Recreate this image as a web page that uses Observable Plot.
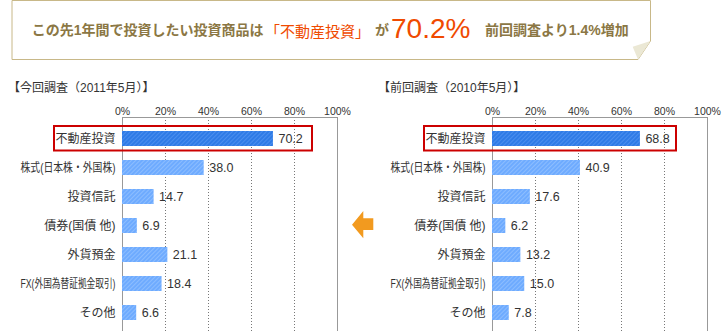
<!DOCTYPE html>
<html><head><meta charset="utf-8">
<script src="https://cdn.jsdelivr.net/npm/d3@7"></script>
<script src="https://cdn.jsdelivr.net/npm/@observablehq/plot@0.6"></script>
<style>
body{margin:0;background:#fff;}
#root{position:relative;width:724px;height:332px;overflow:hidden;font-family:"Liberation Sans","Noto Sans CJK JP",sans-serif;}
.abs{position:absolute;white-space:nowrap;}
</style></head><body>
<div id="root">
<svg class="abs" style="left:0;top:0" width="724" height="332">
  <defs>
    <pattern id="stripeDark" width="3" height="3" patternUnits="userSpaceOnUse" patternTransform="rotate(45)">
      <rect width="3" height="3" fill="#2f7be6"/><rect width="1" height="3" fill="#4a8eef"/>
    </pattern>
    <pattern id="stripeLight" width="3" height="3" patternUnits="userSpaceOnUse" patternTransform="rotate(45)">
      <rect width="3" height="3" fill="#6eabff"/><rect width="1" height="3" fill="#8cbdff"/>
    </pattern>
  </defs>
  <path d="M12,0.5H650.5V41L638,59.5H12Z" fill="#fff" stroke="#c8b888" stroke-width="1"/>
  <path d="M632.7,46.7L650.5,41L638,59.5Z" fill="#ebe8d5"/>
  <polygon points="352,224.7 363.3,211 363.3,218.3 373.3,218.3 373.3,230 363.3,230 363.3,238.3" fill="#f29a1f"/>
</svg>
</div>
<script>
// ---- data ----
const categories = ["不動産投資","株式(日本株・外国株)","投資信託","債券(国債 他)","外貨預金","FX(外国為替証拠金取引)","その他"];
const values2011 = [70.2, 38.0, 14.7, 6.9, 21.1, 18.4, 6.6];
const values2010 = [68.8, 40.9, 17.6, 6.2, 13.2, 15.0, 7.8];
const xTicks = [0, 20, 40, 60, 80, 100];
const gridTicks = [20, 40, 60, 80];
const panelTitles = ["【今回調査（2011年5月）】", "【前回調査（2010年5月）】"];
const highlight = "不動産投資";
const headline = ["この先1年間で投資したい投資商品は", "「不動産投資」", "が", "70.2%", "前回調査より1.4%増加"];

const root = document.getElementById("root");
const font = '"Liberation Sans","Noto Sans CJK JP",sans-serif';

// header text
const hdrStyles = [
  {left:31.7, top:23, size:14, color:"#8b7744", weight:"bold"},
  {left:265, top:23.8, size:15, color:"#f04a00", weight:"normal"},
  {left:375, top:23, size:14, color:"#8b7744", weight:"bold"},
  {left:391, top:14.6, size:28, color:"#f04a00", weight:"normal"},
  {left:485, top:23, size:14, color:"#8b7744", weight:"bold"}
];
headline.forEach((t, i) => {
  const s = hdrStyles[i];
  const d = document.createElement("div");
  d.className = "abs";
  d.textContent = t;
  Object.assign(d.style, {left: s.left + "px", top: s.top + "px", fontSize: s.size + "px",
    lineHeight: s.size + "px", color: s.color, fontWeight: s.weight});
  root.appendChild(d);
});

function panel(values, title, left, insetRight) {
  const data = categories.map((c, i) => ({label: c, value: values[i]}));
  const top = data.filter(d => d.label === highlight);
  const rest = data.filter(d => d.label !== highlight);
  const t = document.createElement("div");
  t.className = "abs";
  t.textContent = title;
  Object.assign(t.style, {left: (left + 8) + "px", top: "81px", fontSize: "12px", lineHeight: "14px", color: "#333"});
  root.appendChild(t);

  const p = Plot.plot({
    width: 351, height: 236,
    marginLeft: 122, marginRight: 14, marginTop: 21, marginBottom: 1,
    style: {fontFamily: font, fontSize: "12px", color: "#333", background: "transparent", overflow: "visible"},
    x: {domain: [0, 100], ticks: xTicks, tickFormat: d => d + "%", axis: "top", tickSize: 0, tickPadding: 3, label: null},
    y: {domain: categories, range: [28.5, 231.5], paddingInner: 0.466, paddingOuter: 0.233, tickSize: 0, tickPadding: 7, label: null},
    marks: [
      Plot.ruleX(gridTicks, {stroke: "#777", strokeDasharray: "1,2"}),
      Plot.ruleX([0, 100], {stroke: "#999"}),
      Plot.frame({anchor: "top", stroke: "#999"}),
      Plot.barX(rest, {x: "value", y: "label", fill: "url(#stripeLight)"}),
      Plot.barX(top, {x: "value", y: "label", fill: "url(#stripeDark)"}),
      Plot.text(data, {x: "value", y: "label", text: d => d.value.toFixed(1), textAnchor: "start", dx: 5, fontSize: 12.5, fill: "#333"}),
      Plot.barX(top, {x1: 0, x2: 100, y: "label", fill: "none", stroke: "#c00", strokeWidth: 2,
        insetLeft: -68, insetRight: insetRight, insetTop: -5, insetBottom: -4.5})
    ]
  });
  p.style.position = "absolute";
  p.style.left = left + "px";
  p.style.top = "96px";
  root.appendChild(p);
  // style axis text
  d3.select(p).selectAll("[aria-label='x-axis tick label'] text").attr("font-size", "10.5px");
  d3.select(p).selectAll("[aria-label='y-axis tick label'] text").each(function() {
    const w = this.getComputedTextLength();
    if (w > 95) { this.setAttribute("textLength", 95); this.setAttribute("lengthAdjust", "spacingAndGlyphs"); }
  });
}
panel(values2011, panelTitles[0], 0, 25);
panel(values2010, panelTitles[1], 370, 31);
</script>
</body></html>
